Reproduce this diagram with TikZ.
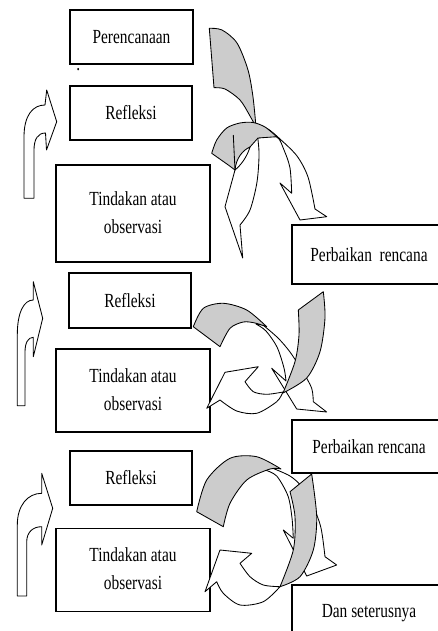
\documentclass[tikz,border=0pt]{standalone}
\usepackage{fontspec}
\setmainfont{Liberation Serif}
\newcommand{\sqz}[1]{\scalebox{0.77}[1]{#1}}
\begin{document}
\begin{tikzpicture}[x=1pt,y=-1pt,
  box/.style={draw=black, line width=1.2pt, inner sep=0pt, font=\fontsize{20}{28}\selectfont, align=center},
  arrw/.style={draw=black, line width=0.85pt, fill=white, line join=round},
  grayarr/.style={arrw, fill=black!20}]
\useasboundingbox (0,0) rectangle (437,631);

% boxes
\node[box, minimum width=123pt, minimum height=54pt] (plan) at (131.5,37) {\sqz{Perencanaan}};
\node[inner sep=0pt, anchor=base, font=\fontsize{20}{28}\selectfont] (dot) at (78.3,70.5) {\sqz{.}};
\node[box, minimum width=122pt, minimum height=54pt] (ref1) at (131,113) {\sqz{Refleksi}};
\node[box, minimum width=154pt, minimum height=97pt] (tin1) at (133,213.5) {\sqz{\begin{tabular}{@{}c@{}}Tindakan atau\\observasi\end{tabular}}};
\node[box, minimum width=154pt, minimum height=59pt] (per1) at (369,254.5) {\sqz{Perbaikan\ \ rencana}};
\node[box, minimum width=122pt, minimum height=55pt] (ref2) at (130,300.5) {\sqz{Refleksi}};
\node[box, minimum width=154pt, minimum height=83pt] (tin2) at (133,390.5) {\sqz{\begin{tabular}{@{}c@{}}Tindakan atau\\observasi\end{tabular}}};
\node[box, minimum width=154pt, minimum height=53pt] (per2) at (369,446.5) {\sqz{Perbaikan rencana}};
\node[box, minimum width=122pt, minimum height=54pt] (ref3) at (131,478) {\sqz{Refleksi}};
\node[box, minimum width=154pt, minimum height=83pt] (tin3) at (133,570) {\sqz{\begin{tabular}{@{}c@{}}Tindakan atau\\observasi\end{tabular}}};
\node[box, minimum width=154pt, minimum height=57pt] (dan) at (369,613.5) {\sqz{Dan seterusnya}};

% left U-turn arrows
\draw[arrw] (24,198.3) -- (24,137) .. controls (24,115) and (33,105) .. (45,105) -- (46.7,90) -- (56.7,121.7) -- (46.5,150) -- (45.5,133) .. controls (38,133) and (34,139) .. (34,150) -- (34,198.3) -- cycle;
\draw[arrw] (17.3,405.7) -- (17.3,335) .. controls (17.3,312) and (24,300) .. (33.3,300) -- (33.3,281.7) -- (42.7,318.3) -- (33.3,356.7) -- (33.3,337.3) .. controls (28,337.3) and (25,343) .. (25,352) -- (25,405.7) -- cycle;
\draw[arrw] (17.3,596) -- (17.3,525) .. controls (17.3,505) and (28,493.3) .. (41.7,493.3) -- (41.7,473.3) -- (52.7,508.3) -- (41.7,545) -- (41.7,526.7) .. controls (33,526.7) and (26.7,532) .. (26.7,542) -- (26.7,596) -- cycle;

% top cluster
\draw[arrw] plot[smooth] coordinates {(256,124) (268,129) (280,139) (297,156) (308,177) (315,209)} -- (326.7,216.7) -- (300,220) -- (280,183) -- (291.7,193.3) -- plot[smooth] coordinates {(291.7,193.3) (290,168) (284,150) (276.7,137) (258,138)} -- cycle;
\draw[arrw] (233.3,135) -- (235,170) -- (225,206.7) -- (242.7,258) -- (240,225) -- plot[smooth] coordinates {(240,225) (250,210) (257,182) (259,152) (256,124)} .. controls (248,124) and (238,128) .. (233.3,135) -- cycle;
\draw[grayarr] plot[smooth] coordinates {(209.3,28.3) (222,30) (237,43) (248,70) (253,97) (256,127)} -- plot[smooth] coordinates {(256,127) (250,116) (240,100) (225,89) (214,87.7)} -- cycle;
\draw[grayarr] plot[smooth] coordinates {(211.7,153.3) (216.7,140) (226.7,128) (240,123) (253,122.5) (265,127) (276.7,136.7)} -- (258,138) -- (250,147) .. controls (244,155) and (238,163) .. (235,170) -- (228.3,165) -- cycle;
\draw[arrw] (235,170) .. controls (236,158) and (243,150) .. (250,147) .. controls (247,157) and (241,165) .. (235,170) -- cycle;
\draw[line width=0.85pt] (233.3,135) -- (235,170);

% middle cluster
\draw[arrw] plot[smooth] coordinates {(263,325) (278,338) (290,352) (303,372) (311.7,388.3) (313.3,401.7)} -- (326.7,412) -- (296.7,409) -- (271.7,368.3) -- (286,381) -- plot[smooth] coordinates {(286,381) (284,368) (277,347) (266,331) (256,324)} -- cycle;
\draw[arrw] plot[smooth] coordinates {(283,392) (276.7,401.7) (256.7,413.3) (236.7,411) (220,400)} -- (206.7,408.3) -- (225,372.3) -- (258.3,366.7) -- (245,381.7) -- plot[smooth] coordinates {(245,381.7) (253.3,391.7) (266.7,394.3) (283,392)} -- cycle;
\draw[grayarr] plot[smooth] coordinates {(193.3,326.7) (203.3,308.3) (223.3,303.3) (246.7,310) (266.7,326.7)} -- plot[smooth] coordinates {(266.7,326.7) (255,323) (243.3,322) (230,328.3) (220,346.7)} -- cycle;
\draw[grayarr] (298.3,310) -- (323.3,291.7) -- plot[smooth] coordinates {(323.3,291.7) (325,318) (320,351.7) (306.7,378) (283,393)} -- plot[smooth] coordinates {(283,393) (295,361.7) (299,335) (298.3,310)} -- cycle;

% bottom cluster
\draw[arrw] plot[smooth] coordinates {(272,468) (290,476) (302,487) (313.3,506.7) (321,528) (325,556.7)} -- (336.7,565) -- (306.7,576) -- (283.3,530) -- (293.3,538.3) -- plot[smooth] coordinates {(293.3,538.3) (292,518) (288,496) (276.7,476) (265,470)} -- cycle;
\draw[arrw] plot[smooth] coordinates {(280,586.7) (263.3,601.7) (240,605) (223.3,593.3) (216.7,581.7)} -- (205,591.7) -- (220,550) -- (251.7,553.3) -- (240,563.3) -- plot[smooth] coordinates {(240,563.3) (250,576.7) (263.3,585) (280,586.7)} -- cycle;
\draw[grayarr] plot[smooth] coordinates {(196.7,511.7) (206.7,480) (230,458.3) (256.7,456.7) (281,469)} -- plot[smooth] coordinates {(281,469) (270,469) (246.7,480) (230,503.3) (223.3,526.7)} -- cycle;
\draw[grayarr] (290,491.7) -- (311.7,474) -- plot[smooth] coordinates {(311.7,474) (316.7,516.7) (313.3,550) (300,576.7) (280,586.7)} -- plot[smooth] coordinates {(280,586.7) (293.3,550) (295,516.7) (290,491.7)} -- cycle;
\end{tikzpicture}
\end{document}
